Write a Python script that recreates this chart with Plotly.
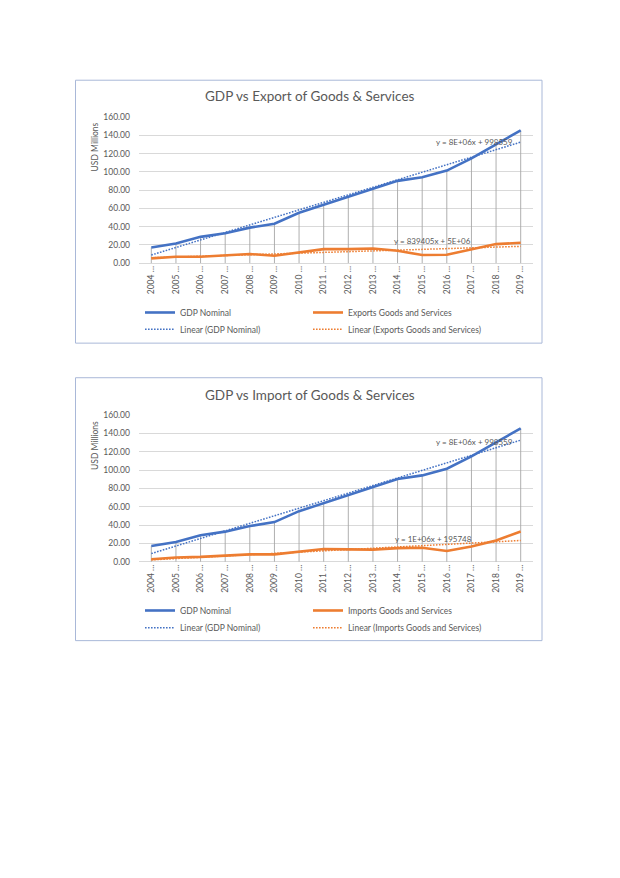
import numpy as np
import plotly.graph_objects as go

years = [str(y) for y in range(2004, 2020)]
cat_labels = [y + " …" for y in years]

gdp_nominal = [17.3, 21.7, 28.9, 32.9, 39.0, 43.3, 55.2, 63.9, 73.3, 81.2, 90.2, 94.2, 101.4, 114.8, 130.0, 145.5]
exports = [5.4, 7.2, 7.2, 8.3, 10.1, 8.3, 11.9, 15.5, 15.5, 16.2, 13.7, 9.0, 9.4, 15.5, 21.0, 22.4]
imports = [2.9, 4.7, 5.4, 6.5, 8.2, 8.2, 11.5, 14.0, 13.6, 13.3, 15.0, 15.4, 11.8, 16.8, 23.3, 33.0]

titles = ["GDP vs Export of Goods & Services", "GDP vs Import of Goods & Services"]
second_names = ["Exports Goods and Services", "Imports Goods and Services"]
eq_gdp = "y = 8E+06x + 998559"
eq_second = ["y = 839405x + 5E+06", "y = 1E+06x + 195748"]

# page is 620x878; browser body adds an 8px margin, so the figure is 604x862
PAGE_W, PAGE_H = 620, 878
OFF = 8
W, H = PAGE_W - 2 * OFF, PAGE_H - 2 * OFF
BLUE = "#4472C4"
ORANGE = "#ED7D31"
TXT = "#595959"
GRID = "#D9D9D9"
FONT = "Lato"
DOT = "1.6px,1.4px"


def px(x):
    return (x - OFF) / W


def py(y):
    return 1 - (y - OFF) / H


def trend(vals):
    xs = np.arange(1, len(vals) + 1)
    m, b = np.polyfit(xs, vals, 1)
    return list(m * xs + b)


fig = go.Figure()

charts = [
    dict(box=(75.5, 76, 542, 342), plot=(139, 113.3, 533, 261.2), title_y=92,
         ytitle_y=143, leg1=311, leg2=328, eq1=(434, 139), eq2=(392, 239)),
    dict(box=(75.5, 377, 542, 643), plot=(139, 414.7, 533, 563.3), title_y=394,
         ytitle_y=445, leg1=612.5, leg2=630, eq1=(434, 442), eq2=(393, 540)),
]
seconds = [exports, imports]
LEG_X = [140, 308]

shapes = []
annotations = []
legends = {}
for i, ch in enumerate(charts):
    xa = "x" if i == 0 else "x2"
    ya = "y" if i == 0 else "y2"
    sec = seconds[i]
    base = 4 * i
    names = ["legend" if base == 0 else "legend%d" % (base + 1)] + ["legend%d" % (base + k) for k in (2, 3, 4)]

    legstyle = dict(orientation="h", xanchor="left", yanchor="middle", itemwidth=30,
                    bgcolor="rgba(0,0,0,0)", font=dict(family=FONT, size=8.5, color=TXT))
    legends[names[0]] = dict(legstyle, x=px(LEG_X[0]), y=py(ch["leg1"]))
    legends[names[1]] = dict(legstyle, x=px(LEG_X[1]), y=py(ch["leg1"]))
    legends[names[2]] = dict(legstyle, x=px(LEG_X[0]), y=py(ch["leg2"]))
    legends[names[3]] = dict(legstyle, x=px(LEG_X[1]), y=py(ch["leg2"]))

    # drop lines
    dx, dy = [], []
    for c, g, s in zip(cat_labels, gdp_nominal, sec):
        dx += [c, c, None]
        dy += [0, max(g, s), None]
    fig.add_trace(go.Scatter(x=dx, y=dy, mode="lines", xaxis=xa, yaxis=ya,
                             line=dict(color="#A6A6A6", width=0.9),
                             showlegend=False, hoverinfo="skip"))

    fig.add_trace(go.Scatter(x=cat_labels, y=trend(gdp_nominal), mode="lines", xaxis=xa, yaxis=ya,
                             name="Linear (GDP Nominal)", legend=names[2],
                             line=dict(color=BLUE, width=1.5, dash=DOT)))
    fig.add_trace(go.Scatter(x=cat_labels, y=trend(sec), mode="lines", xaxis=xa, yaxis=ya,
                             name="Linear (" + second_names[i] + ")", legend=names[3],
                             line=dict(color=ORANGE, width=1.5, dash=DOT)))
    fig.add_trace(go.Scatter(x=cat_labels, y=gdp_nominal, mode="lines", xaxis=xa, yaxis=ya,
                             name="GDP Nominal", legend=names[0],
                             line=dict(color=BLUE, width=2.6)))
    fig.add_trace(go.Scatter(x=cat_labels, y=sec, mode="lines", xaxis=xa, yaxis=ya,
                             name=second_names[i], legend=names[1],
                             line=dict(color=ORANGE, width=2.6)))

    x0, y0, x1, y1 = ch["box"]
    shapes.append(dict(type="rect", xref="paper", yref="paper",
                       x0=px(x0), x1=px(x1), y0=py(y1), y1=py(y0),
                       line=dict(color="#A9B8D8", width=1), fillcolor="rgba(0,0,0,0)", layer="below"))

    pl, pt, pr, pb = ch["plot"]
    axis_suffix = "" if i == 0 else "2"
    fig.update_layout(**{
        "xaxis" + axis_suffix: dict(domain=[px(pl), px(pr)], anchor=ya, type="category",
                                    range=[-0.5, 15.5], tickangle=-90, showgrid=False,
                                    showline=False, zeroline=False, ticks="",
                                    tickfont=dict(family=FONT, size=8.5, color=TXT),
                                    fixedrange=True),
        "yaxis" + axis_suffix: dict(domain=[py(pb), py(pt)], anchor=xa, range=[0, 160],
                                    dtick=20, tickformat=".2f", showgrid=True, gridcolor=GRID,
                                    gridwidth=1, zeroline=True, zerolinecolor=GRID, zerolinewidth=1,
                                    showline=False, ticks="", ticklabelstandoff=8,
                                    tickfont=dict(family=FONT, size=8.5, color=TXT),
                                    fixedrange=True),
    })

    annotations.append(dict(text=titles[i], xref="paper", yref="paper", x=px(310), y=py(ch["title_y"]),
                            xanchor="center", yanchor="middle", showarrow=False,
                            font=dict(family=FONT, size=13.5, color=TXT)))
    annotations.append(dict(text="USD Millions", xref="paper", yref="paper", x=px(95), y=py(ch["ytitle_y"]),
                            xanchor="center", yanchor="middle", showarrow=False, textangle=-90,
                            font=dict(family=FONT, size=8.5, color=TXT)))
    annotations.append(dict(text=eq_gdp, xref="paper", yref="paper", x=px(ch["eq1"][0]), y=py(ch["eq1"][1]),
                            xanchor="left", yanchor="middle", showarrow=False,
                            font=dict(family=FONT, size=8, color=TXT)))
    annotations.append(dict(text=eq_second[i], xref="paper", yref="paper", x=px(ch["eq2"][0]), y=py(ch["eq2"][1]),
                            xanchor="left", yanchor="middle", showarrow=False,
                            font=dict(family=FONT, size=8, color=TXT)))

fig.update_layout(**legends)
fig.update_layout(width=W, height=H, margin=dict(l=0, r=0, t=0, b=0),
                  paper_bgcolor="white", plot_bgcolor="white",
                  shapes=shapes, annotations=annotations)

fig.write_html("out.html", config={"displayModeBar": False})
